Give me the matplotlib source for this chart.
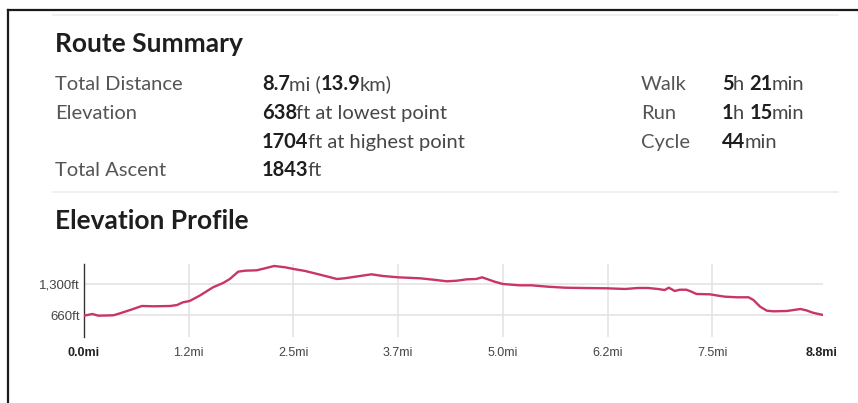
import matplotlib
matplotlib.use("Agg")
import matplotlib.pyplot as plt
from matplotlib.lines import Line2D

# ---------------- data ----------------
dist_mi = [0.00, 0.10, 0.17, 0.35, 0.43, 0.55, 0.69, 0.83, 1.03, 1.11, 1.18, 1.26,
           1.38, 1.54, 1.66, 1.74, 1.84, 1.92, 2.06, 2.16, 2.27, 2.40, 2.52, 2.64,
           2.80, 3.02, 3.11, 3.27, 3.43, 3.57, 3.75, 4.01, 4.17, 4.33, 4.45, 4.57,
           4.68, 4.75, 4.82, 4.90, 5.00, 5.20, 5.34, 5.54, 5.74, 5.94, 6.24, 6.46,
           6.61, 6.73, 6.85, 6.93, 6.98, 7.05, 7.11, 7.19, 7.25, 7.31, 7.47, 7.57,
           7.65, 7.79, 7.93, 7.99, 8.07, 8.15, 8.23, 8.39, 8.55, 8.62, 8.70, 8.82]
elev_ft = [646, 681, 646, 654, 695, 763, 846, 840, 846, 866, 922, 949,
           1059, 1232, 1321, 1403, 1554, 1575, 1583, 1624, 1672, 1645, 1604, 1569,
           1500, 1403, 1418, 1459, 1500, 1465, 1438, 1418, 1389, 1356, 1368, 1397,
           1403, 1438, 1397, 1348, 1300, 1273, 1273, 1244, 1224, 1218, 1211, 1197,
           1218, 1218, 1197, 1176, 1224, 1156, 1182, 1182, 1141, 1094, 1087, 1059,
           1038, 1026, 1026, 970, 831, 749, 736, 743, 784, 757, 707, 660]

x_tick_vals = [0.0, 1.25, 2.5, 3.75, 5.0, 6.25, 7.5, 8.8]
x_tick_labels = ["0.0mi", "1.2mi", "2.5mi", "3.7mi", "5.0mi", "6.2mi", "7.5mi", "8.8mi"]
y_tick_vals = [660, 1300]
y_tick_labels = ["660ft", "1,300ft"]

title_summary = "Route Summary"
title_profile = "Elevation Profile"
left_labels = ["Total Distance", "Elevation", "", "Total Ascent"]
left_values = [
    [("8.7", True), ("mi (", False), ("13.9", True), ("km)", False)],
    [("638", True), ("ft at lowest point", False)],
    [("1704", True), ("ft at highest point", False)],
    [("1843", True), ("ft", False)],
]
right_labels = ["Walk", "Run", "Cycle"]
right_values = [
    [("5", True), ("h ", False), ("21", True), ("min", False)],
    [("1", True), ("h ", False), ("15", True), ("min", False)],
    [("44", True), ("min", False)],
]

# ---------------- layout helpers ----------------
W, H = 858, 403
def fx(px): return px / W
def fy(py): return 1 - py / H

fig = plt.figure(figsize=(W / 100, H / 100), dpi=100)
fig.patch.set_facecolor("white")
renderer = fig.canvas.get_renderer()

SANS = ["Lato", "DejaVu Sans"]

def ink_w(s, **kw):
    t = fig.text(0, 0, s, **kw)
    w = t.get_window_extent(renderer).width
    t.remove()
    return w

def advance(s, **kw):
    return ink_w("|" + s + "|", **kw) - ink_w("||", **kw)

def rich(x, y, segs, size):
    for s, bold in segs:
        kw = dict(fontsize=size, family=SANS,
                  weight="bold" if bold else "normal",
                  color="#1e1e1e" if bold else "#474747")
        fig.text(fx(x), fy(y), s, va="baseline", ha="left", **kw)
        x += advance(s, **kw) - (0.8 if bold else 0.0)

# frame lines
fig.add_artist(Line2D([fx(8), fx(858)], [fy(10), fy(10)], color="#1a1a1a", lw=1.6))
fig.add_artist(Line2D([fx(8), fx(8)], [fy(10), fy(403)], color="#1a1a1a", lw=1.6))
# separators
for yy in (15, 192):
    fig.add_artist(Line2D([fx(53), fx(838)], [fy(yy), fy(yy)], color="#eeeeee", lw=1.2))

# titles
fig.text(fx(55), fy(52), title_summary, fontsize=19, family=SANS, weight="bold",
         color="#1e1e1e", va="baseline")
fig.text(fx(55), fy(229), title_profile, fontsize=19, family=SANS, weight="bold",
         color="#1e1e1e", va="baseline")

row_base = [90.5, 119, 147.5, 175.5]
FS = 14.5
for lab, vals, yb in zip(left_labels, left_values, row_base):
    if lab:
        fig.text(fx(55), fy(yb), lab, fontsize=FS, family=SANS, color="#555555",
                 va="baseline")
    rich(262, yb, vals, FS)
for lab, vals, yb in zip(right_labels, right_values, row_base):
    fig.text(fx(641), fy(yb), lab, fontsize=FS, family=SANS, color="#555555",
             va="baseline")
    rich(722, yb, vals, FS)

# ---------------- chart ----------------
ax = fig.add_axes([fx(84), fy(337), (823 - 84) / W, (337 - 264) / H])
ax.plot(dist_mi, elev_ft, color="#c7356b", lw=1.7, solid_joinstyle="round", zorder=3)
ax.set_xlim(0, 8.82)
ax.set_ylim(206, 1713)
for s in ("top", "right", "bottom"):
    ax.spines[s].set_visible(False)
ax.spines["left"].set_color("#333333")
ax.spines["left"].set_linewidth(1.0)

ax.set_xticks(x_tick_vals, x_tick_labels)
ax.set_yticks(y_tick_vals, y_tick_labels)
ax.tick_params(axis="both", length=0)
ax.tick_params(axis="x", pad=7, labelsize=9, labelcolor="#444444")
ax.tick_params(axis="y", pad=3, labelsize=9.5, labelcolor="#444444")
for lbl in ax.get_xticklabels() + ax.get_yticklabels():
    lbl.set_family(["Liberation Sans", "DejaVu Sans"])
xl = ax.get_xticklabels()
for i in (0, len(xl) - 1):
    xl[i].set_weight("bold")
    xl[i].set_color("#222222")

ax.grid(True, color="#e2e2e2", lw=1.1, zorder=0)
xg = ax.get_xgridlines()
xg[0].set_visible(False)
xg[-1].set_visible(False)
ax.set_axisbelow(True)

fig.savefig("out.png", dpi=100, facecolor="white")
